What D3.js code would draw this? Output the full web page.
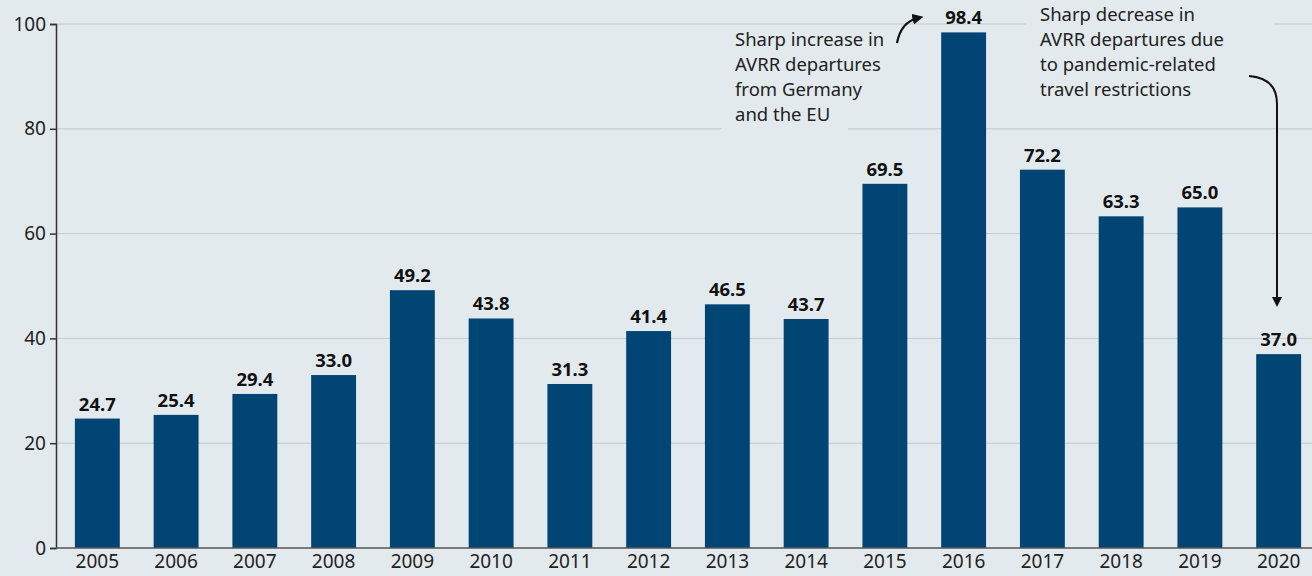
<!DOCTYPE html>
<html>
<head>
<meta charset="utf-8">
<script src="https://cdn.jsdelivr.net/npm/d3@7"></script>
<style>
  body { margin: 0; background: #e2eaed; }
  svg { display: block; font-family: "Noto Sans", "Open Sans", sans-serif; }
</style>
</head>
<body>
<script>
var years = ["2005","2006","2007","2008","2009","2010","2011","2012","2013","2014","2015","2016","2017","2018","2019","2020"];
var departures = [24.7, 25.4, 29.4, 33.0, 49.2, 43.8, 31.3, 41.4, 46.5, 43.7, 69.5, 98.4, 72.2, 63.3, 65.0, 37.0];
var yTicks = [0, 20, 40, 60, 80, 100];
var noteUp = ["Sharp increase in", "AVRR departures", "from Germany", "and the EU"];
var noteDown = ["Sharp decrease in", "AVRR departures due", "to pandemic-related", "travel restrictions"];

var W = 1312, H = 576;
var bg = "#e2eaed", barCol = "#004574";
var font = '"Noto Sans", "Open Sans", sans-serif';

var svg = d3.select("body").append("svg").attr("width", W).attr("height", H);
svg.append("rect").attr("width", W).attr("height", H).attr("fill", bg);

var x = d3.scaleBand().domain(years).range([56, 1320]).paddingInner(0.43).paddingOuter(0.24);
var y = d3.scaleLinear().domain([0, 100]).range([548, 24]);

// grid
svg.append("g").selectAll("line").data(yTicks.slice(1)).enter().append("line")
    .attr("x1", 56).attr("x2", W)
    .attr("y1", d => y(d)).attr("y2", d => y(d))
    .attr("stroke", "#c4cacd").attr("stroke-width", 1);

// bars
svg.append("g").selectAll("rect").data(departures).enter().append("rect")
    .attr("x", (d, i) => x(years[i]))
    .attr("y", d => y(d))
    .attr("width", x.bandwidth())
    .attr("height", d => y(0) - y(d))
    .attr("fill", barCol);

// value labels
svg.append("g").selectAll("text").data(departures).enter().append("text")
    .attr("x", (d, i) => x(years[i]) + x.bandwidth() / 2)
    .attr("y", d => y(d) - 8)
    .attr("text-anchor", "middle")
    .attr("font-size", 18.5).attr("font-weight", "bold").attr("fill", "#111")
    .text(d => d.toFixed(1));

// axes
var yAxis = d3.axisLeft(y).tickValues(yTicks).tickSize(6).tickPadding(4);
var gy = svg.append("g").attr("transform", "translate(56,0)").call(yAxis)
    .attr("font-family", font).attr("font-size", 19);
gy.selectAll("text").attr("fill", "#222");
gy.selectAll("line, path").attr("stroke", "#333").attr("stroke-width", 1.5);

var xAxis = d3.axisBottom(x).tickSize(0).tickPadding(7);
var gx = svg.append("g").attr("transform", "translate(0,548)").call(xAxis)
    .attr("font-family", font).attr("font-size", 19);
gx.select("path").attr("d", "M56,0H" + W).attr("stroke", "#555").attr("stroke-width", 1.5);
gx.selectAll("text").attr("fill", "#222");

// annotations
function note(lines, x0, y0, bx, bw, bh) {
    svg.append("rect").attr("x", bx).attr("y", y0 - 20).attr("width", bw).attr("height", bh).attr("fill", bg);
    svg.append("text").attr("x", x0).attr("y", y0).attr("font-size", 18.5).attr("fill", "#222")
        .selectAll("tspan").data(lines).enter().append("tspan")
        .attr("x", x0).attr("dy", (d, i) => i ? 25 : 0).text(d => d);
}
note(noteUp, 735, 46, 722, 126, 104);
note(noteDown, 1040, 21, 1026, 248, 104);

svg.append("defs").append("marker").attr("id", "ah")
    .attr("viewBox", "0 0 10 10").attr("refX", 5).attr("refY", 5)
    .attr("markerWidth", 5).attr("markerHeight", 5).attr("orient", "auto")
    .append("path").attr("d", "M0,0L10,5L0,10z").attr("fill", "#111");

svg.append("path").attr("d", "M897,43 Q901,22 918,18")
    .attr("fill", "none").attr("stroke", "#111").attr("stroke-width", 2.2).attr("marker-end", "url(#ah)");
svg.append("path").attr("d", "M1249,76 Q1277,78 1277,104 L1277,302")
    .attr("fill", "none").attr("stroke", "#111").attr("stroke-width", 2).attr("marker-end", "url(#ah)");
</script>
</body>
</html>
